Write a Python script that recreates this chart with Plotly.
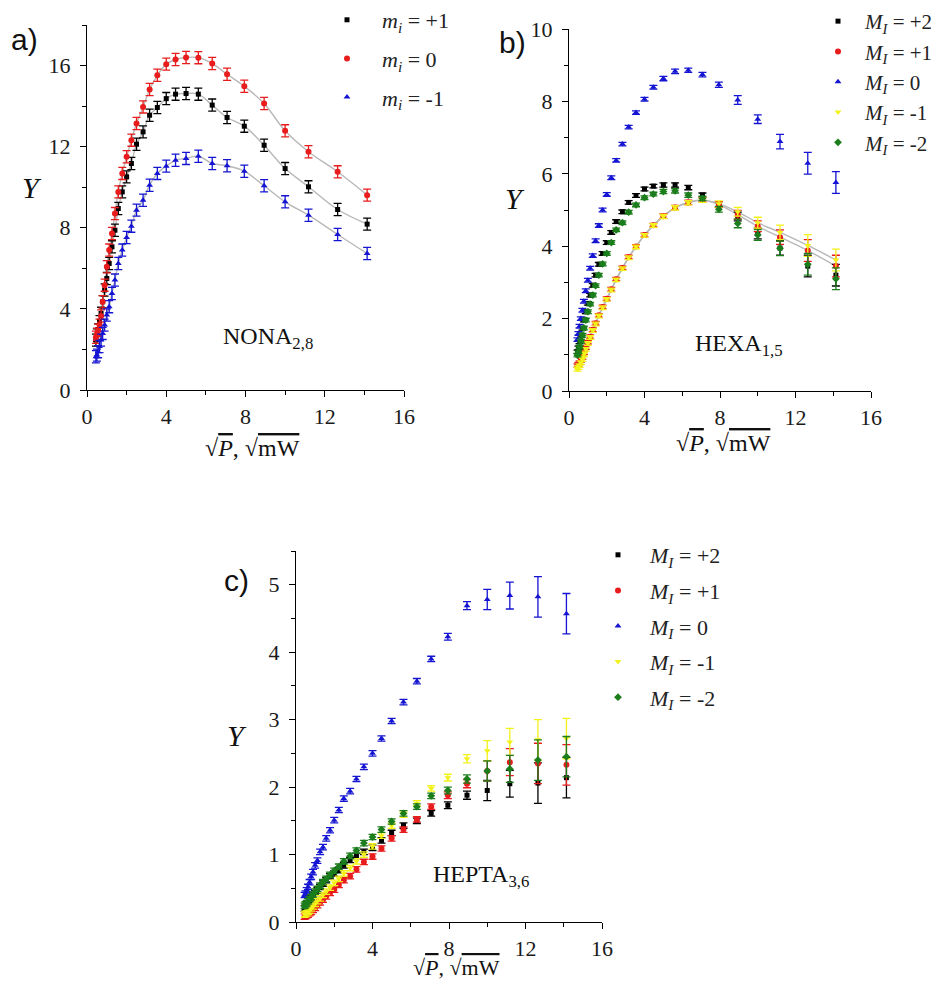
import plotly.graph_objects as go

# The page body has an 8 px margin, so the figure is offset by 8 px.
OFF = 8
W, H = 931, 972

# ---------------- data ----------------
sqrtP = [0.45, 0.5, 0.56, 0.63, 0.71, 0.79, 0.89, 1.0, 1.12, 1.26, 1.41, 1.58, 1.78, 2.0, 2.24,
         2.5, 2.83, 3.16, 3.55, 4.0, 4.47, 5.0, 5.62, 6.32, 7.07, 7.94, 8.94, 10.0, 11.18, 12.65, 14.14]

# panel a (NONA 2,8)
a_p1 = [2.46, 2.71, 2.96, 3.37, 3.78, 4.35, 4.93, 5.5, 6.24, 7.06, 7.88, 8.95, 9.77, 10.51, 11.17,
        12.12, 12.73, 13.55, 13.93, 14.37, 14.59, 14.62, 14.59, 14.05, 13.44, 13.01, 12.07, 10.92, 10.02, 8.9, 8.18]
a_0 = [2.6, 2.75, 2.95, 3.2, 3.65, 4.35, 5.17, 6.08, 6.9, 7.72, 8.7, 9.77, 10.68, 11.5, 12.32,
       13.14, 13.96, 14.82, 15.52, 16.07, 16.3, 16.4, 16.39, 16.1, 15.57, 14.98, 14.13, 12.78, 11.75, 10.76, 9.61]
a_m1 = [1.64, 1.72, 1.89, 2.14, 2.46, 2.79, 3.2, 3.7, 4.11, 4.76, 5.42, 6.24, 6.9, 7.52, 8.08,
        8.87, 9.36, 10.1, 10.68, 11.04, 11.33, 11.42, 11.53, 11.17, 11.06, 10.79, 10.07, 9.28, 8.62, 7.67, 6.73]
a_err = [0.3] * 31

# panel b (HEXA 1,5)
b_p2 = [1.08, 1.19, 1.36, 1.54, 1.73, 1.96, 2.19, 2.42, 2.65, 2.92, 3.2, 3.5, 3.8, 4.1, 4.38,
        4.68, 4.95, 5.21, 5.4, 5.58, 5.66, 5.69, 5.69, 5.62, 5.41, 5.15, 4.82, 4.35, 3.95, 3.45, 3.2]
b_p1 = [0.7, 0.74, 0.78, 0.85, 0.93, 1.06, 1.2, 1.35, 1.5, 1.69, 1.87, 2.09, 2.32, 2.55, 2.81,
        3.09, 3.4, 3.7, 3.99, 4.31, 4.58, 4.83, 5.07, 5.21, 5.28, 5.15, 4.87, 4.55, 4.25, 3.88, 3.45]
b_0 = [1.42, 1.59, 1.79, 2.0, 2.23, 2.48, 2.77, 3.06, 3.39, 3.74, 4.15, 4.57, 5.0, 5.43, 5.89,
       6.37, 6.82, 7.29, 7.69, 8.06, 8.39, 8.63, 8.83, 8.86, 8.74, 8.46, 8.04, 7.51, 6.89, 6.29, 5.76]
b_m1 = [0.6, 0.65, 0.7, 0.78, 0.87, 1.01, 1.15, 1.31, 1.48, 1.67, 1.85, 2.07, 2.3, 2.53, 2.79,
        3.07, 3.38, 3.68, 3.98, 4.3, 4.57, 4.82, 5.06, 5.2, 5.27, 5.17, 4.95, 4.65, 4.38, 4.02, 3.62]
b_m2 = [0.99, 1.08, 1.22, 1.38, 1.54, 1.74, 1.96, 2.19, 2.4, 2.65, 2.91, 3.2, 3.51, 3.8, 4.1,
        4.45, 4.65, 4.94, 5.14, 5.34, 5.44, 5.51, 5.53, 5.41, 5.32, 5.02, 4.63, 4.31, 3.94, 3.5, 3.1]
b_err_0 = [0.05, 0.05, 0.05, 0.05, 0.05, 0.05, 0.05, 0.05, 0.05, 0.05, 0.05, 0.05, 0.05, 0.05, 0.05,
           0.05, 0.05, 0.05, 0.05, 0.05, 0.05, 0.06, 0.06, 0.06, 0.06, 0.07, 0.12, 0.12, 0.2, 0.3, 0.3]
b_err = [0.05, 0.05, 0.05, 0.05, 0.05, 0.05, 0.05, 0.05, 0.05, 0.05, 0.05, 0.05, 0.05, 0.05, 0.05,
         0.05, 0.05, 0.05, 0.05, 0.05, 0.05, 0.06, 0.06, 0.06, 0.06, 0.08, 0.12, 0.15, 0.2, 0.3, 0.3]

# panel c (HEPTA 3,6)
c_p2 = [0.2, 0.22, 0.25, 0.28, 0.31, 0.35, 0.39, 0.43, 0.47, 0.52, 0.57, 0.62, 0.68, 0.72, 0.77,
        0.84, 0.92, 0.98, 1.04, 1.1, 1.21, 1.32, 1.43, 1.5, 1.61, 1.73, 1.88, 1.95, 2.05, 2.06, 2.14]
c_p1 = [0.08, 0.09, 0.1, 0.11, 0.13, 0.15, 0.18, 0.21, 0.25, 0.29, 0.33, 0.38, 0.43, 0.48, 0.55,
        0.62, 0.68, 0.78, 0.89, 0.97, 1.09, 1.24, 1.37, 1.52, 1.71, 1.88, 2.05, 2.24, 2.37, 2.35, 2.33]
c_0 = [0.4, 0.42, 0.47, 0.52, 0.59, 0.67, 0.74, 0.84, 0.91, 1.04, 1.11, 1.24, 1.36, 1.51, 1.66,
       1.83, 1.94, 2.12, 2.3, 2.5, 2.72, 2.98, 3.26, 3.57, 3.9, 4.23, 4.69, 4.78, 4.84, 4.82, 4.57]
c_m1 = [0.11, 0.12, 0.13, 0.15, 0.17, 0.2, 0.23, 0.27, 0.31, 0.35, 0.4, 0.45, 0.51, 0.58, 0.64,
        0.72, 0.8, 0.9, 1.0, 1.12, 1.28, 1.43, 1.59, 1.76, 1.98, 2.14, 2.42, 2.54, 2.67, 2.7, 2.72]
c_m2 = [0.24, 0.26, 0.28, 0.31, 0.34, 0.37, 0.41, 0.45, 0.49, 0.54, 0.59, 0.64, 0.7, 0.76, 0.82,
        0.9, 0.98, 1.06, 1.17, 1.26, 1.37, 1.49, 1.61, 1.71, 1.87, 1.95, 2.12, 2.24, 2.27, 2.4, 2.45]
c_err = [0.04, 0.04, 0.04, 0.04, 0.04, 0.04, 0.04, 0.04, 0.04, 0.04, 0.04, 0.04, 0.04, 0.04, 0.04,
         0.04, 0.04, 0.04, 0.04, 0.04, 0.04, 0.04, 0.04, 0.04, 0.04, 0.05, 0.06, 0.15, 0.2, 0.3, 0.3]

x_ticks = [0, 4, 8, 12, 16]

labels_a = ["<i>m</i><sub><i>i</i></sub> = +1", "<i>m</i><sub><i>i</i></sub> = 0", "<i>m</i><sub><i>i</i></sub> = -1"]
labels_bc = ["<i>M</i><sub><i>I</i></sub> = +2", "<i>M</i><sub><i>I</i></sub> = +1", "<i>M</i><sub><i>I</i></sub> = 0",
             "<i>M</i><sub><i>I</i></sub> = -1", "<i>M</i><sub><i>I</i></sub> = -2"]

# ---------------- style ----------------
BLACK, RED, BLUE, YELLOW, GREEN = "#000000", "#e81c1c", "#1414d2", "#f2f21a", "#1b7d1b"
FIT = "#b8b8b8"
SERIF = "Liberation Serif"

fig = go.Figure()


def fit_line(y, xa, ya):
    fig.add_trace(go.Scatter(x=sqrtP, y=y, mode="lines", line=dict(color=FIT, width=1.4, shape="spline"),
                             xaxis=xa, yaxis=ya, showlegend=False, hoverinfo="skip"))


def series(y, err, name, color, symbol, xa, ya, leg, size=6):
    fig.add_trace(go.Scatter(x=sqrtP, y=y, mode="markers", name=name,
                             marker=dict(color=color, symbol=symbol, size=size, line=dict(width=0)),
                             error_y=dict(type="data", array=err, color=color, thickness=1.3, width=4),
                             xaxis=xa, yaxis=ya, legend=leg, legendgroup=leg + name))


# panel a
for y in (a_p1, a_0, a_m1):
    fit_line(y, "x", "y")
series(a_p1, a_err, labels_a[0], BLACK, "square", "x", "y", "legend", 5)
series(a_0, a_err, labels_a[1], RED, "circle", "x", "y", "legend", 6)
series(a_m1, a_err, labels_a[2], BLUE, "triangle-up", "x", "y", "legend", 6)

# panel b
fit_line(b_p1, "x2", "y2")
fit_line(b_m1, "x2", "y2")
series(b_p2, b_err, labels_bc[0], BLACK, "square", "x2", "y2", "legend2", 5)
series(b_p1, b_err, labels_bc[1], RED, "circle", "x2", "y2", "legend2", 6)
series(b_0, b_err_0, labels_bc[2], BLUE, "triangle-up", "x2", "y2", "legend2", 6)
series(b_m1, b_err, labels_bc[3], YELLOW, "triangle-down", "x2", "y2", "legend2", 6)
series(b_m2, b_err, labels_bc[4], GREEN, "diamond", "x2", "y2", "legend2", 6)

# panel c
series(c_p2, c_err, labels_bc[0], BLACK, "square", "x3", "y3", "legend3", 5)
series(c_p1, c_err, labels_bc[1], RED, "circle", "x3", "y3", "legend3", 6)
series(c_0, c_err, labels_bc[2], BLUE, "triangle-up", "x3", "y3", "legend3", 6)
series(c_m1, c_err, labels_bc[3], YELLOW, "triangle-down", "x3", "y3", "legend3", 6)
series(c_m2, c_err, labels_bc[4], GREEN, "diamond", "x3", "y3", "legend3", 6)


def fx(x):
    """page pixel -> paper fraction (horizontal)"""
    return (x - OFF) / W


def fy(y):
    """page pixel -> paper fraction (vertical)"""
    return 1 - (y - OFF) / H


def px(x0, x1):
    return [fx(x0), fx(x1)]


def py(y_top, y_bot):
    return [fy(y_bot), fy(y_top)]


axis_common = dict(showline=True, linecolor="black", linewidth=1.3, ticks="outside", ticklen=6,
                   tickwidth=1.3, tickcolor="black", showgrid=False, zeroline=False, automargin=False,
                   tickfont=dict(family=SERIF, size=22, color="#1a1a1a"), fixedrange=True)


def xax(dom, anchor):
    return dict(axis_common, domain=dom, anchor=anchor, range=[0, 16], tickvals=x_ticks,
                minor=dict(ticks="outside", ticklen=3.5, tickwidth=1, tickcolor="black", dtick=2, tick0=0))


def yax(dom, anchor, rng, dtick, mdtick):
    return dict(axis_common, domain=dom, anchor=anchor, range=rng, dtick=dtick, tick0=0,
                ticklabelstandoff=5,
                minor=dict(ticks="outside", ticklen=3.5, tickwidth=1, tickcolor="black", dtick=mdtick, tick0=0))


xtitle = ("√<span style='text-decoration:overline'><i>P</i></span>, "
          "√<span style='text-decoration:overline'>mW</span>")


def ann(text, x, y, size, family=SERIF, xanchor="center", yanchor="middle"):
    return dict(text=text, x=fx(x), y=fy(y), xref="paper", yref="paper", showarrow=False,
                font=dict(family=family, size=size, color="#111"), xanchor=xanchor, yanchor=yanchor)


annotations = [
    ann("a)", 24, 40, 30, family="Liberation Sans"),
    ann("b)", 512, 42, 30, family="Liberation Sans"),
    ann("c)", 236, 580, 30, family="Liberation Sans"),
    ann("<i>Y</i>", 32, 188, 30),
    ann("<i>Y</i>", 515, 198, 30),
    ann("<i>Y</i>", 237, 735, 30),
    ann(xtitle, 252, 448, 24),
    ann(xtitle, 723, 443, 24),
    ann(xtitle, 456, 967, 22),
    ann("NONA<sub>2,8</sub>", 268, 338, 24),
    ann("HEXA<sub>1,5</sub>", 739, 345, 24),
    ann("HEPTA<sub>3,6</sub>", 481, 876, 24),
]

leg_common = dict(bgcolor="rgba(0,0,0,0)", borderwidth=0, xanchor="left", yanchor="top",
                  traceorder="grouped", font=dict(family=SERIF, size=22, color="#222"))

fig.update_layout(
    width=W, height=H, margin=dict(l=0, r=0, t=0, b=0, autoexpand=False),
    paper_bgcolor="white", plot_bgcolor="white",
    xaxis=xax(px(87, 404), "y"),
    yaxis=yax(py(25, 390), "x", [0, 18], 4, 2),
    xaxis2=xax(px(569, 871), "y2"),
    yaxis2=yax(py(29, 391), "x2", [0, 10], 2, 1),
    xaxis3=xax(px(296, 602), "y3"),
    yaxis3=yax(py(551, 922), "x3", [0, 5.5], 1, 0.5),
    legend=dict(leg_common, x=fx(312), y=fy(-1), tracegroupgap=7, itemwidth=60),
    legend2=dict(leg_common, x=1.0, xanchor="right", y=fy(1), tracegroupgap=0, itemwidth=44,
                 font=dict(family=SERIF, size=21, color="#222")),
    legend3=dict(leg_common, x=fx(586), y=fy(534), tracegroupgap=4, itemwidth=54),
    annotations=annotations,
    showlegend=True,
)

fig.write_html("out.html")
